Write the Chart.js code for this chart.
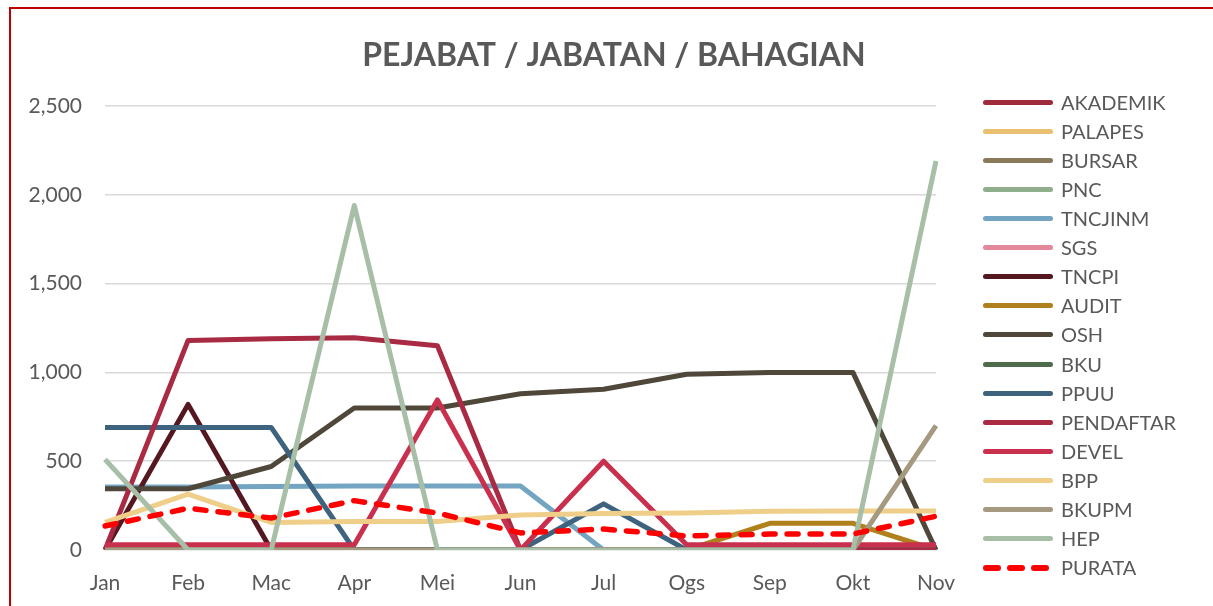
<!DOCTYPE html>
<html>
<head>
<meta charset="utf-8">
<script src="https://cdn.jsdelivr.net/npm/chart.js@4/dist/chart.umd.min.js"></script>
<style>
  html, body { margin: 0; padding: 0; background: #fff; }
  body { width: 1213px; height: 606px; position: relative; overflow: hidden; font-family: Lato, sans-serif; }
  #bingkai { position: absolute; left: 9px; top: 7px; right: -5px; bottom: -5px;
             border-top: 2px solid #C00000; border-left: 2px solid #C00000; pointer-events: none; }
  #graf { position: absolute; left: 0; top: 0; }
  #petunjuk { position: absolute; left: 983px; top: 0; }
  .item { position: absolute; left: 0; height: 20px; white-space: nowrap; }
  .garis { position: absolute; left: 0; top: 7px; width: 70px; height: 5px; border-radius: 2.5px; }
  .sengkang { position: absolute; top: 7px; width: 18px; height: 6px; border-radius: 3px; background: #FF0000; }
  .nama { position: absolute; left: 78px; top: -3px; font-size: 20px; color: #595959; line-height: 24px; }
</style>
</head>
<body>
<canvas id="graf" width="1213" height="606"></canvas>
<div id="petunjuk"></div>
<div id="bingkai"></div>
<script>
// ==========================================================================
//   Data — dibaca dari carta asal (anggaran)
// ==========================================================================

const bulan = ['Jan', 'Feb', 'Mac', 'Apr', 'Mei', 'Jun', 'Jul', 'Ogs', 'Sep', 'Okt', 'Nov'];

const akademik  = [0, 0, 0, 0, 0, 0, 0, 0, 0, 0, 0];
const palapes   = [0, 0, 0, 0, 0, 0, 0, 0, 0, 0, 0];
const bursar    = [0, 0, 0, 0, 0, 0, 0, 0, 0, 0, 0];
const pnc       = [0, 0, 0, 0, 0, 0, 0, 0, 0, 0, 0];
const tncjinm   = [355, 355, 357, 360, 360, 360, 0, 0, 0, 0, 0];
const sgs       = [0, 0, 0, 0, 0, 0, 0, 0, 0, 0, 0];
const tncpi     = [0, 820, 0, 0, 0, 0, 0, 0, 0, 0, 0];
const audit     = [0, 0, 0, 0, 0, 0, 0, 0, 150, 150, 0];
const osh       = [345, 345, 470, 800, 800, 880, 905, 990, 1000, 1000, 0];
const bku       = [0, 0, 0, 0, 0, 0, 0, 0, 0, 0, 0];
const ppuu      = [690, 690, 690, 0, 0, 0, 260, 0, 0, 0, 0];
const pendaftar = [0, 1180, 1190, 1195, 1150, 0, 0, 0, 0, 0, 0];
const devel     = [30, 30, 30, 30, 845, 0, 500, 30, 30, 30, 30];
const bpp       = [155, 315, 155, 160, 160, 197, 205, 208, 218, 220, 220];
const bkupm     = [0, 0, 0, 0, 0, 0, 0, 0, 0, 0, 700];
const hep       = [510, 0, 0, 1940, 0, 0, 0, 0, 0, 0, 2190];
const purata    = [135, 235, 180, 278, 208, 96, 118, 79, 90, 90, 190];

const tickY = [0, 500, 1000, 1500, 2000, 2500];

// nama, data, warna
const siri = [
    ['AKADEMIK',  akademik,  '#9E2A3C'],
    ['PALAPES',   palapes,   '#E8C06F'],
    ['BURSAR',    bursar,    '#8A7A5C'],
    ['PNC',       pnc,       '#8FAE8B'],
    ['TNCJINM',   tncjinm,   '#73A5C2'],
    ['SGS',       sgs,       '#E3879A'],
    ['TNCPI',     tncpi,     '#561820'],
    ['AUDIT',     audit,     '#B0801C'],
    ['OSH',       osh,       '#4E473A'],
    ['BKU',       bku,       '#4E6B4C'],
    ['PPUU',      ppuu,      '#3E637F'],
    ['PENDAFTAR', pendaftar, '#A92B43'],
    ['DEVEL',     devel,     '#C9304E'],
    ['BPP',       bpp,       '#EFCE8A'],
    ['BKUPM',     bkupm,     '#A59A80'],
    ['HEP',       hep,       '#A6BFA6'],
];

const datasets = siri.map(([nama, data, warna], i) => ({
    label: nama,
    data: data,
    borderColor: warna,
    backgroundColor: warna,
    borderWidth: 5,
    borderJoinStyle: 'round',
    pointRadius: 0,
    tension: 0,
    order: 100 - i          // siri terakhir dilukis di atas (macam Excel)
}));

datasets.push({
    label: 'PURATA',
    data: purata,
    borderColor: '#FF0000',
    backgroundColor: '#FF0000',
    borderWidth: 5.5,
    borderDash: [11, 12],
    borderCapStyle: 'round',
    borderJoinStyle: 'round',
    pointRadius: 0,
    tension: 0,
    order: 0
});

const ctx = document.getElementById('graf');

const carta = new Chart(ctx, {
    type: 'line',
    data: { labels: bulan, datasets: datasets },
    options: {
        responsive: false,
        animation: false,
        devicePixelRatio: 1,
        layout: { padding: { left: 15, right: 0, top: 0, bottom: 0 } },
        plugins: {
            legend: { display: false },
            tooltip: { enabled: false },
            title: {
                display: true,
                text: 'PEJABAT / JABATAN / BAHAGIAN',
                color: '#595959',
                font: { family: 'Lato', size: 32, weight: 'bold', lineHeight: 1.2 },
                padding: { top: 36, bottom: 31.6 }
            }
        },
        scales: {
            x: {
                grid: { display: false, drawTicks: false },
                border: { display: false },
                afterFit: (skala) => { skala.height = 56; },
                ticks: {
                    color: '#595959',
                    font: { family: 'Lato', size: 21 },
                    padding: 21,
                    maxRotation: 0,
                    autoSkip: false
                }
            },
            y: {
                min: 0,
                max: 2500,
                border: { display: false },
                grid: { color: '#D9D9D9', lineWidth: 1.5, drawTicks: false },
                afterFit: (skala) => { skala.width = 90; },
                afterBuildTicks: (skala) => { skala.ticks = tickY.map(v => ({ value: v })); },
                ticks: {
                    color: '#595959',
                    font: { family: 'Lato', size: 21 },
                    padding: 23
                }
            },
            // ruang kosong di kanan untuk petunjuk
            kanan: {
                position: 'right',
                grid: { display: false, drawTicks: false },
                border: { display: false },
                ticks: { display: false },
                afterFit: (skala) => { skala.width = 277; }
            }
        }
    }
});

// ==========================================================================
//   Petunjuk di sebelah kanan — dibina daripada dataset carta
// ==========================================================================

const petunjuk = document.getElementById('petunjuk');
carta.data.datasets.forEach((ds, i) => {
    const item = document.createElement('div');
    item.className = 'item';
    item.style.top = (93 + i * 29.06) + 'px';
    if (ds.borderDash) {
        [0, 24, 48].forEach(x => {
            const s = document.createElement('span');
            s.className = 'sengkang';
            s.style.left = x + 'px';
            s.style.background = ds.borderColor;
            item.appendChild(s);
        });
    } else {
        const g = document.createElement('span');
        g.className = 'garis';
        g.style.background = ds.borderColor;
        item.appendChild(g);
    }
    const t = document.createElement('span');
    t.className = 'nama';
    t.textContent = ds.label;
    item.appendChild(t);
    petunjuk.appendChild(item);
});
</script>
</body>
</html>
